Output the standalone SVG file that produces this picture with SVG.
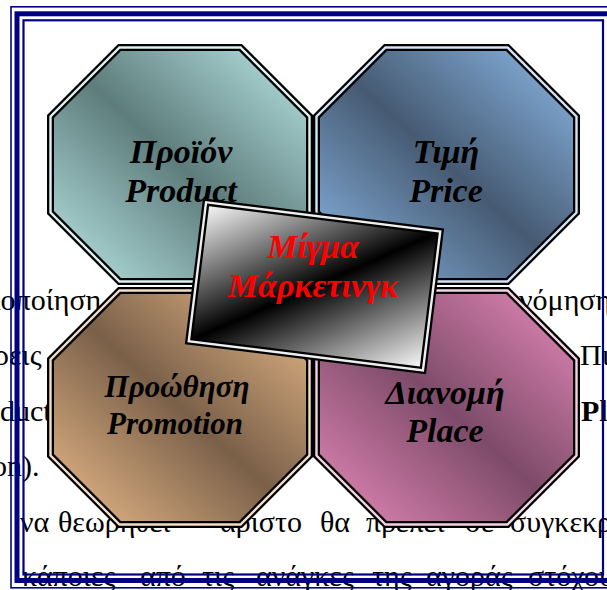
<svg xmlns="http://www.w3.org/2000/svg" width="607" height="590" viewBox="0 0 607 590">
<defs>
<linearGradient id="gProduct" x1="0" y1="1" x2="1" y2="0"><stop offset="0" stop-color="#BAE9E7"/><stop offset="0.5" stop-color="#5E7C7C"/><stop offset="1" stop-color="#BAE9E7"/></linearGradient>
<linearGradient id="gPrice" x1="0" y1="1" x2="1" y2="0"><stop offset="0" stop-color="#8DBBEA"/><stop offset="0.5" stop-color="#465A72"/><stop offset="1" stop-color="#8DBBEA"/></linearGradient>
<linearGradient id="gPromotion" x1="0" y1="1" x2="1" y2="0"><stop offset="0" stop-color="#EEBE8C"/><stop offset="0.5" stop-color="#7A6049"/><stop offset="1" stop-color="#EEBE8C"/></linearGradient>
<linearGradient id="gPlace" x1="0" y1="1" x2="1" y2="0"><stop offset="0" stop-color="#E98BBC"/><stop offset="0.5" stop-color="#7D4B69"/><stop offset="1" stop-color="#E98BBC"/></linearGradient>
<linearGradient id="gMix" x1="0" y1="0" x2="1" y2="1"><stop offset="0" stop-color="#FFFFFF"/><stop offset="0.5" stop-color="#000000"/><stop offset="1" stop-color="#FFFFFF"/></linearGradient>
</defs>
<style>
.bg{font-family:"Liberation Serif","Times New Roman",serif;font-size:30px;fill:#000}
.bgb{font-weight:bold}
.lbl{font-family:"Liberation Serif","Times New Roman",serif;font-weight:bold;font-style:italic;font-size:34px;text-anchor:middle;fill:#000}
.small{font-size:31px}
.mix{fill:#FF0000}
.oct{stroke:#000;stroke-width:7;stroke-linejoin:miter}
.gap{fill:none;stroke-width:2.4;stroke-linejoin:miter}
.frame{fill:none;stroke:#000080}
</style>
<g id="background-text" class="bg">
<text x="-14" y="310">λοποίηση</text>
<text x="519" y="310">νόμηση</text>
<text x="-6" y="365">ρεις</text>
<text x="580" y="365">Πι</text>
<text x="0" y="421">duct</text>
<text x="581" y="421" class="bgb">Pl</text>
<text x="-8" y="476">on).</text>
<text y="532"><tspan x="20">να</tspan><tspan x="58">θεωρηθεί</tspan><tspan x="220">άριστο</tspan><tspan x="320">θα</tspan><tspan x="366">πρέπει</tspan><tspan x="465">σε</tspan><tspan x="510">συγκεκρι</tspan></text>
<text y="586"><tspan x="22">κάποιες</tspan><tspan x="140">από</tspan><tspan x="202">τις</tspan><tspan x="256">ανάγκες</tspan><tspan x="372">της</tspan><tspan x="426">αγοράς</tspan><tspan x="528">στόχου</tspan></text>
</g>
<g id="connectors"></g>
<g id="node-product">
<polygon class="oct" fill="url(#gProduct)" points="119.5,47.5 240.5,47.5 309.5,116.5 309.5,212.5 240.5,281.5 119.5,281.5 50.5,212.5 50.5,116.5"/>
<polygon class="gap" stroke="#DDF3F1" points="119.5,47.5 240.5,47.5 309.5,116.5 309.5,212.5 240.5,281.5 119.5,281.5 50.5,212.5 50.5,116.5"/>
<text class="lbl" x="181" y="163">Προϊόν</text>
<text class="lbl" x="181" y="202">Product</text>
</g>
<g id="node-price">
<polygon class="oct" fill="url(#gPrice)" points="385.5,47.5 507.5,47.5 576.5,116.5 576.5,212.5 507.5,281.5 385.5,281.5 316.5,212.5 316.5,116.5"/>
<polygon class="gap" stroke="#D3E4F5" points="385.5,47.5 507.5,47.5 576.5,116.5 576.5,212.5 507.5,281.5 385.5,281.5 316.5,212.5 316.5,116.5"/>
<text class="lbl" x="446" y="163">Τιμή</text>
<text class="lbl" x="446" y="202">Price</text>
</g>
<g id="node-promotion">
<polygon class="oct" fill="url(#gPromotion)" points="119.5,290.5 240.5,290.5 309.5,359.5 309.5,455.5 240.5,524.5 119.5,524.5 50.5,455.5 50.5,359.5"/>
<polygon class="gap" stroke="#F3DEC8" points="119.5,290.5 240.5,290.5 309.5,359.5 309.5,455.5 240.5,524.5 119.5,524.5 50.5,455.5 50.5,359.5"/>
<text class="lbl small" x="177" y="397">Προώθηση</text>
<text class="lbl small" x="175" y="434">Promotion</text>
</g>
<g id="node-place">
<polygon class="oct" fill="url(#gPlace)" points="385.5,290.5 507.5,290.5 576.5,359.5 576.5,455.5 507.5,524.5 385.5,524.5 316.5,455.5 316.5,359.5"/>
<polygon class="gap" stroke="#F3D2E3" points="385.5,290.5 507.5,290.5 576.5,359.5 576.5,455.5 507.5,524.5 385.5,524.5 316.5,455.5 316.5,359.5"/>
<text class="lbl" x="445" y="404">Διανομή</text>
<text class="lbl" x="445" y="442">Place</text>
</g>
<g id="node-marketing-mix">
<g transform="translate(314.5,286.3) rotate(7.1)">
<rect x="-118" y="-70" width="236" height="140" fill="url(#gMix)" stroke="#000" stroke-width="7"/>
<rect x="-118" y="-70" width="236" height="140" fill="none" stroke="#EEEEEE" stroke-width="2.4"/>
</g>
<text class="lbl mix" x="313" y="258">Μίγμα</text>
<text class="lbl mix" x="313" y="297">Μάρκετινγκ</text>
</g>
<g id="frame" class="frame">
<rect x="11" y="6.8" width="700" height="581" stroke-width="1.6"/>
<rect x="17" y="13.8" width="700" height="566.7" stroke-width="5"/>
<rect x="23.5" y="20.3" width="579.5" height="554.2" stroke-width="2.2"/>
</g>
</svg>
